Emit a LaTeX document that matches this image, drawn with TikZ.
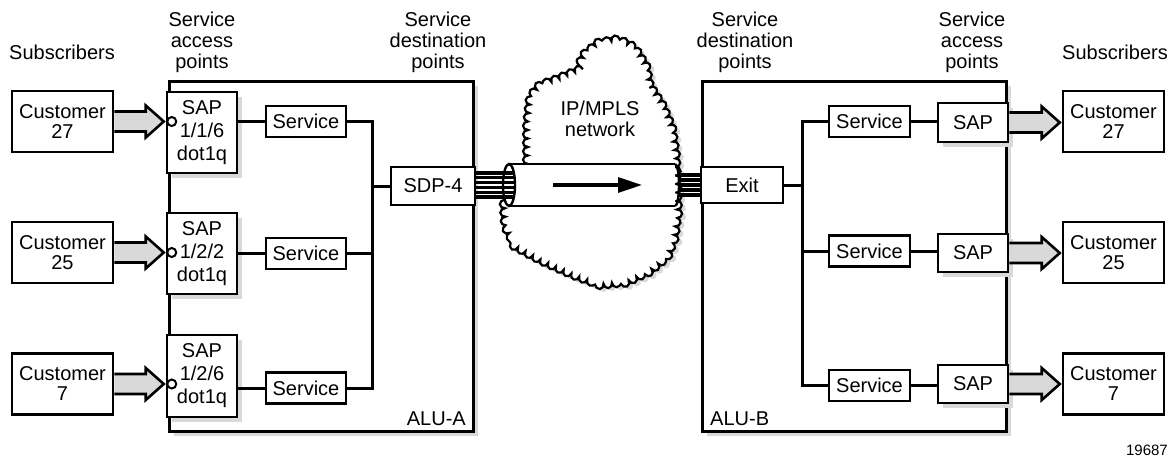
\documentclass[tikz,border=0pt]{standalone}
\usepackage{fontspec}
\setmainfont{Liberation Sans}
\usetikzlibrary{shadows,decorations.pathmorphing,arrows.meta,calc}
\begin{document}
\begin{tikzpicture}[x=1pt,y=-1pt,
  every node/.style={font=\fontsize{20}{21}\selectfont},
  box/.style={draw,line width=2.5pt,fill=white,inner sep=0pt,align=center},
  shad/.style={drop shadow={shadow xshift=5pt,shadow yshift=-5pt,fill=gray!30,opacity=1}},
  alu/.style={draw,line width=3pt,fill=white,inner sep=0pt,shad},
  sapbox/.style={box,shad,minimum width=70pt,font=\fontsize{20}{23}\selectfont},
  svbox/.style={box,minimum width=80pt,minimum height=31pt},
  custbox/.style={box,minimum width=101pt,minimum height=61pt,font=\fontsize{20}{20}\selectfont},
  conn/.style={line width=3pt},
  strand/.style={line width=3.2pt},
  fat/.style={fill=gray!30,draw=black,line width=2.6pt,line join=miter},
  hdr/.style={align=center,inner sep=0pt},
  ring/.style={circle,draw,fill=white,line width=2pt,minimum size=9pt,inner sep=0pt},
  cloudline/.style={decorate,decoration={bumps,segment length=17pt,amplitude=5pt}}
]
\useasboundingbox (0,0) rectangle (1175,472);

% routers
\node[alu,minimum width=304pt,minimum height=350pt] (aluA) at (321,256) {};
\node[alu,minimum width=304pt,minimum height=350pt] (aluB) at (854,256) {};
\node[anchor=base east,inner sep=0pt] (aluAl) at (466,425) {ALU-A};
\node[anchor=base west,inner sep=0pt] (aluBl) at (710,425) {ALU-B};

% headers
\node[hdr] (hsubL) at (62,52) {Subscribers};
\node[hdr] (hsapL) at (202,42) {Service\\access\\points};
\node[hdr] (hsdpL) at (438,42) {Service\\destination\\points};
\node[hdr] (hsdpR) at (745,42) {Service\\destination\\points};
\node[hdr] (hsapR) at (972,42) {Service\\access\\points};
\node[hdr] (hsubR) at (1115,52) {Subscribers};
\node[anchor=base east,inner sep=0pt,font=\fontsize{15}{15}\selectfont] (fig) at (1168,455) {19687};

% cloud
\def\cloudpath{(528,164) -- (528,125) -- (531,97) -- (540,86) -- (557,80) -- (576,72) -- (585,55) -- (598,44) -- (618,40) -- (634,48) -- (645,66) -- (649,86) -- (662,106) -- (671,128) -- (675,155) -- (677,210) -- (674,235) -- (667,256) -- (650,270) -- (627,281) -- (600,284) -- (573,274) -- (542,260) -- (516,246) -- (506,226) -- (505,207) -- cycle}
\path[fill=gray!30,shift={(4,3)},cloudline] \cloudpath;
\path[fill=white,draw=black,line width=2.2pt,cloudline] \cloudpath;
\node[hdr] (cloudl) at (600,119) {IP/MPLS\\network};

% tube
\path[fill=white] (509,164) rectangle (675,206);
\draw[line width=2.4pt] (509,164) -- (675,164);
\draw[line width=2.4pt] (509,206) -- (675,206);
\draw[line width=2.4pt] (675,164) arc[start angle=-90,end angle=90,x radius=4,y radius=21];
\draw[line width=2.4pt,fill=white] (509,185) ellipse[x radius=6,y radius=21];
\coordinate (tubeL) at (514,185);
\coordinate (tubeR) at (678,185);
\coordinate (flowS) at (553,185);
\coordinate (flowE) at (642,185);
\draw[line width=3.2pt,-{Triangle[length=24pt,width=15pt]}] (flowS) -- (flowE);

% left side nodes
\node[sapbox,minimum height=81pt] (sapA1) at (202,132.5) {SAP\\1/1/6\\dot1q};
\node[sapbox,minimum height=81pt] (sapA2) at (202,253.5) {SAP\\1/2/2\\dot1q};
\node[sapbox,minimum height=82pt] (sapA3) at (202,376) {SAP\\1/2/6\\dot1q};
\node[svbox] (svA1) at (306,121.5) {Service};
\node[svbox] (svA2) at (306,253.5) {Service};
\node[svbox] (svA3) at (306,388) {Service};
\node[box,minimum width=84pt,minimum height=38pt] (sdp) at (433,186) {SDP-4};
\node[custbox] (cL1) at (62.5,121.5) {Customer\\27};
\node[custbox] (cL2) at (62.5,252.5) {Customer\\25};
\node[custbox] (cL3) at (62.5,384) {Customer\\7};

% right side nodes
\node[box,minimum width=82pt,minimum height=36pt] (exit) at (742,185) {Exit};
\node[svbox,minimum width=81pt] (svB1) at (869.5,121.5) {Service};
\node[svbox,minimum width=81pt] (svB2) at (869.5,251) {Service};
\node[svbox,minimum width=81pt] (svB3) at (869.5,385.5) {Service};
\node[sapbox,minimum height=39pt] (sapB1) at (973,122.5) {SAP};
\node[sapbox,minimum height=38pt] (sapB2) at (973,253) {SAP};
\node[sapbox,minimum height=38pt] (sapB3) at (973,384) {SAP};
\node[custbox] (cR1) at (1113.5,121.5) {Customer\\27};
\node[custbox] (cR2) at (1113.5,252.5) {Customer\\25};
\node[custbox] (cR3) at (1113.5,384) {Customer\\7};

% connectors in ALU-A
\coordinate (bA) at (372,0);
\foreach \i in {1,2,3} \draw[conn] (svA\i.west -| sapA\i.east) -- (svA\i.west);
\draw[conn] (svA1.east) -| (bA |- svA3.east) -- (svA3.east);
\draw[conn] (svA2.east) -- (bA |- svA2.east);
\draw[conn] (bA |- sdp.west) -- (sdp.west);

% connectors in ALU-B
\coordinate (bB) at (802,0);
\foreach \i in {1,2,3} \draw[conn] (svB\i.east) -- (svB\i.east -| sapB\i.west);
\draw[conn] (svB1.west) -| (bB |- svB3.west) -- (svB3.west);
\draw[conn] (svB2.west) -- (bB |- svB2.west);
\draw[conn] (exit.east) -- (bB |- exit.east);

% fibre strands
\foreach \o in {-12,-7.2,-2.4,2.4,7.2,12}
  \draw[strand] ([yshift=\o pt]sdp.east |- tubeL) -- ([yshift=\o pt]tubeL);
\foreach \o in {-10,-5,0,5,10}
  \draw[strand] ([yshift=\o pt]tubeR) -- ([yshift=\o pt]exit.west |- tubeR);

% fat arrows
\foreach \i in {1,2,3}{
  \path[fat] let \p1=(cL\i.east), \p2=(sapA\i.west) in
    (\x1,\y1+10) -- (\x2-20,\y1+10) -- (\x2-20,\y1+16) -- (\x2-2,\y1) -- (\x2-20,\y1-16) -- (\x2-20,\y1-10) -- (\x1,\y1-10);
  \node[ring] (o\i) at ($(sapA\i.west |- cL\i.east)+(6,0)$) {};
  \path[fat] let \p1=(sapB\i.east), \p2=(cR\i.west) in
    (\x1,\y1+10) -- (\x2-20,\y1+10) -- (\x2-20,\y1+16) -- (\x2-2,\y1) -- (\x2-20,\y1-16) -- (\x2-20,\y1-10) -- (\x1,\y1-10);
}
\end{tikzpicture}
\end{document}
